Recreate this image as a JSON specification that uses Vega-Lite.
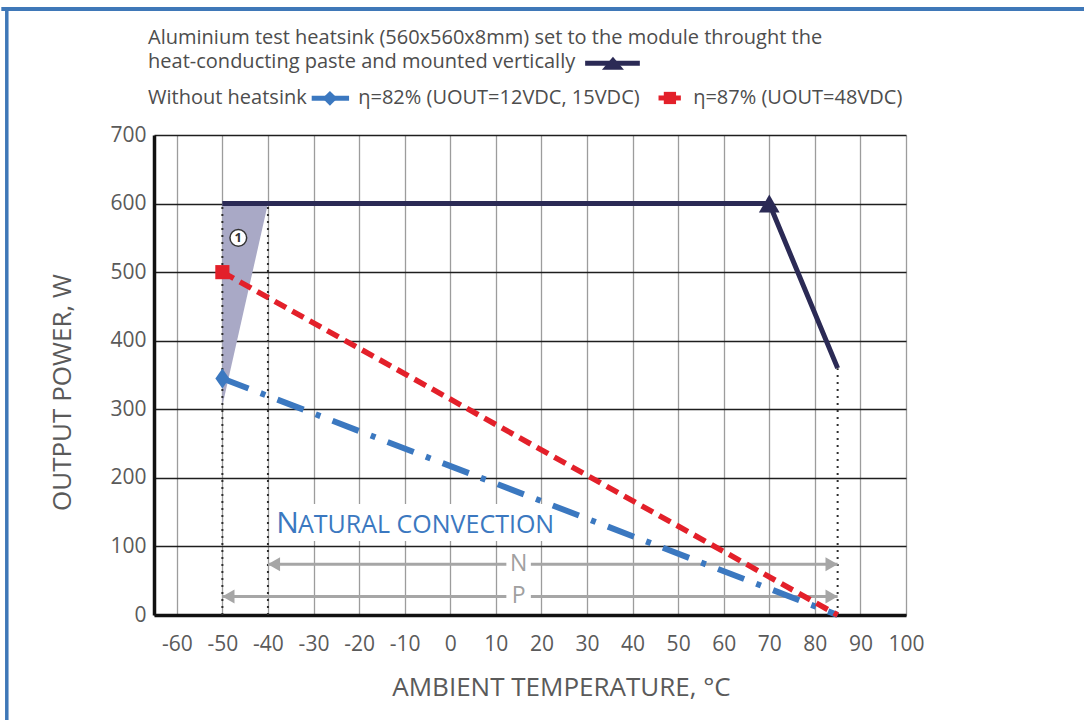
{
  "$schema": "https://vega.github.io/schema/vega-lite/v6.json",
  "width": 752,
  "height": 480,
  "autosize": {"type": "none"},
  "padding": {"left": 154, "top": 135, "right": 178, "bottom": 105},
  "background": "white",
  "config": {"view": {"stroke": null}, "font": "Open Sans"},
  "datasets": {
    "frameTop": [{"x": -98.5, "x2": 140, "y": 883.7}],
    "frameLeft": [{"x": -97.3, "y": -160, "y2": 886}],
    "shade": [{"x": -50, "y": 305, "y2": 600}, {"x": -40, "y": 600, "y2": 600}],
    "vrules": [{"x": -50, "y": 0, "y2": 600}, {"x": -40, "y": 0, "y2": 600}, {"x": 85, "y": 0, "y2": 360}],
    "arrows": [{"x": -40, "x2": 85, "y": 74}, {"x": -50, "x2": 85, "y": 27}],
    "arrowLeft": [{"x": -40, "y": 74}, {"x": -50, "y": 27}],
    "arrowRight": [{"x": 85, "y": 74}, {"x": 85, "y": 27}],
    "arrowLabels": [{"x": 15, "y": 74, "label": "N"}, {"x": 15, "y": 27, "label": "P"}],
    "box": [{"x": -39.5, "x2": 24, "y": 108, "y2": 162}],
    "heatsink": [{"x": -50, "y": 600}, {"x": 70, "y": 600}, {"x": 85, "y": 360}],
    "eta87": [{"x": -50, "y": 500}, {"x": 85, "y": 0}],
    "eta82": [{"x": -50, "y": 345}, {"x": 85, "y": 0}],
    "triMarker": [{"x": 70, "y": 600}],
    "sqMarker": [{"x": -50, "y": 500}],
    "diaMarker": [{"x": -50, "y": 345}],
    "circle1": [{"x": -46.5, "y": 550, "text": "1"}],
    "convN": [{"x": -38.2, "y": 119.6, "text": "N"}],
    "convRest": [{"x": -33.4, "y": 119.6, "text": "ATURAL CONVECTION"}],
    "header": [
      {"x": -66.3, "y": 832.5, "text": "Aluminium test heatsink (560x560x8mm) set to the module throught the"},
      {"x": -66.3, "y": 797, "text": "heat-conducting paste and mounted vertically"},
      {"x": -66.3, "y": 745, "text": "Without heatsink"}
    ],
    "headerEta": [
      {"x": -20.2, "y": 745, "text": "η=82% (UOUT=12VDC, 15VDC)"},
      {"x": 53.3, "y": 745, "text": "η=87% (UOUT=48VDC)"}
    ],
    "legNavyLine": [{"x": 29.6, "y": 804.6}, {"x": 41.6, "y": 804.6}],
    "legNavyTri": [{"x": 35.7, "y": 804.6}],
    "legBlueLine": [{"x": -30.4, "y": 753.5}, {"x": -22.2, "y": 753.5}],
    "legBlueDia": [{"x": -26.4, "y": 753.5}],
    "legRedLine": [{"x": 45.7, "y": 754}, {"x": 50.6, "y": 754}],
    "legRedSq": [{"x": 48.2, "y": 754}]
  },
  "encoding": {
    "x": {
      "field": "x",
      "type": "quantitative",
      "scale": {"domain": [-65, 100], "nice": false, "zero": false},
      "axis": {
        "values": [-60, -50, -40, -30, -20, -10, 0, 10, 20, 30, 40, 50, 60, 70, 80, 90, 100],
        "labelExpr": "'' + datum.value",
        "grid": true,
        "gridColor": "#9c9c9c",
        "gridWidth": 1.3,
        "domainColor": "#111111",
        "domainWidth": 3.5,
        "ticks": false,
        "labelFontSize": 21,
        "labelColor": "#5a5a5a",
        "labelPadding": 18,
        "labelFlush": false,
        "title": "AMBIENT TEMPERATURE, °C",
        "titleFontSize": 26,
        "titleFontWeight": "normal",
        "titleColor": "#5a5a5a",
        "titlePadding": 20,
        "titleX": 407
      }
    },
    "y": {
      "field": "y",
      "type": "quantitative",
      "scale": {"domain": [0, 700], "nice": false, "zero": false},
      "axis": {
        "values": [0, 100, 200, 300, 400, 500, 600, 700],
        "grid": true,
        "gridColor": "#1e1e1e",
        "gridWidth": 1.5,
        "domainColor": "#111111",
        "domainWidth": 3.5,
        "ticks": false,
        "labelFontSize": 21,
        "labelColor": "#5a5a5a",
        "labelPadding": 8,
        "labelFlush": false,
        "title": "OUTPUT POWER, W",
        "titleFontSize": 26,
        "titleFontWeight": "normal",
        "titleColor": "#5a5a5a",
        "titlePadding": 34,
        "titleY": 257
      }
    }
  },
  "layer": [
    {"data": {"name": "frameTop"}, "mark": {"type": "rule", "color": "#3f78b8", "strokeWidth": 4}, "encoding": {"x2": {"field": "x2"}}},
    {"data": {"name": "frameLeft"}, "mark": {"type": "rule", "color": "#3f78b8", "strokeWidth": 3.5}, "encoding": {"y2": {"field": "y2"}}},
    {"data": {"name": "shade"}, "mark": {"type": "area", "color": "#a9a9c6", "opacity": 1}, "encoding": {"y2": {"field": "y2"}}},
    {"data": {"name": "vrules"}, "mark": {"type": "rule", "color": "#2e2e2e", "strokeWidth": 2, "strokeDash": [2, 5]}, "encoding": {"y2": {"field": "y2"}}},
    {"data": {"name": "arrows"}, "mark": {"type": "rule", "color": "#a6a6a6", "strokeWidth": 3}, "encoding": {"x2": {"field": "x2"}}},
    {"data": {"name": "arrowLeft"}, "mark": {"type": "point", "shape": "triangle-left", "filled": true, "color": "#a6a6a6", "size": 200, "opacity": 1}, "encoding": {"xOffset": {"value": 6}}},
    {"data": {"name": "arrowRight"}, "mark": {"type": "point", "shape": "triangle-right", "filled": true, "color": "#a6a6a6", "size": 200, "opacity": 1}, "encoding": {"xOffset": {"value": -6}}},
    {"data": {"name": "arrowLabels"}, "mark": {"type": "point", "shape": "square", "filled": true, "color": "white", "size": 600, "opacity": 1}},
    {"data": {"name": "arrowLabels"}, "mark": {"type": "text", "fontSize": 23, "color": "#a0a0a0", "baseline": "middle", "align": "center"}, "encoding": {"text": {"field": "label"}}},
    {"data": {"name": "box"}, "mark": {"type": "rect", "color": "white", "opacity": 1}, "encoding": {"x2": {"field": "x2"}, "y2": {"field": "y2"}}},
    {"data": {"name": "convN"}, "mark": {"type": "text", "fontSize": 30, "color": "#3b78c0", "align": "left", "baseline": "alphabetic"}, "encoding": {"text": {"field": "text"}}},
    {"data": {"name": "convRest"}, "mark": {"type": "text", "fontSize": 25, "color": "#3b78c0", "align": "left", "baseline": "alphabetic"}, "encoding": {"text": {"field": "text"}}},
    {"data": {"name": "eta82"}, "mark": {"type": "line", "color": "#3b78c0", "strokeWidth": 6, "strokeDash": [28, 13, 5, 13], "strokeCap": "butt"}},
    {"data": {"name": "eta87"}, "mark": {"type": "line", "color": "#e3202a", "strokeWidth": 5.5, "strokeDash": [13, 7], "strokeCap": "butt"}},
    {"data": {"name": "heatsink"}, "mark": {"type": "line", "color": "#2b2a55", "strokeWidth": 5, "strokeJoin": "miter"}},
    {"data": {"name": "triMarker"}, "mark": {"type": "point", "shape": "triangle-up", "filled": true, "color": "#2b2a55", "size": 430, "opacity": 1}},
    {"data": {"name": "sqMarker"}, "mark": {"type": "point", "shape": "square", "filled": true, "color": "#e3202a", "size": 200, "opacity": 1}},
    {"data": {"name": "diaMarker"}, "mark": {"type": "point", "shape": "M-0.7,0L0,-1L0.7,0L0,1Z", "filled": true, "color": "#3b78c0", "size": 400, "opacity": 1}},
    {"data": {"name": "circle1"}, "mark": {"type": "point", "shape": "circle", "filled": true, "fill": "white", "stroke": "#333333", "strokeWidth": 1.5, "size": 280, "opacity": 1}},
    {"data": {"name": "circle1"}, "mark": {"type": "text", "fontSize": 13, "fontWeight": "bold", "color": "#333333", "align": "center", "baseline": "middle"}, "encoding": {"text": {"field": "text"}}},
    {"data": {"name": "header"}, "mark": {"type": "text", "fontSize": 20, "color": "#4d4d4d", "align": "left", "baseline": "alphabetic"}, "encoding": {"text": {"field": "text"}}},
    {"data": {"name": "headerEta"}, "mark": {"type": "text", "fontSize": 20, "color": "#4d4d4d", "align": "left", "baseline": "alphabetic"}, "encoding": {"text": {"field": "text"}}},
    {"data": {"name": "legNavyLine"}, "mark": {"type": "line", "color": "#2b2a55", "strokeWidth": 5}},
    {"data": {"name": "legNavyTri"}, "mark": {"type": "point", "shape": "M0,-0.6L-1,0.6L1,0.6Z", "filled": true, "color": "#2b2a55", "size": 484, "opacity": 1}},
    {"data": {"name": "legBlueLine"}, "mark": {"type": "line", "color": "#3b78c0", "strokeWidth": 5}},
    {"data": {"name": "legBlueDia"}, "mark": {"type": "point", "shape": "diamond", "filled": true, "color": "#3b78c0", "size": 220, "opacity": 1}},
    {"data": {"name": "legRedLine"}, "mark": {"type": "line", "color": "#e3202a", "strokeWidth": 5}},
    {"data": {"name": "legRedSq"}, "mark": {"type": "point", "shape": "square", "filled": true, "color": "#e3202a", "size": 150, "opacity": 1}}
  ]
}
